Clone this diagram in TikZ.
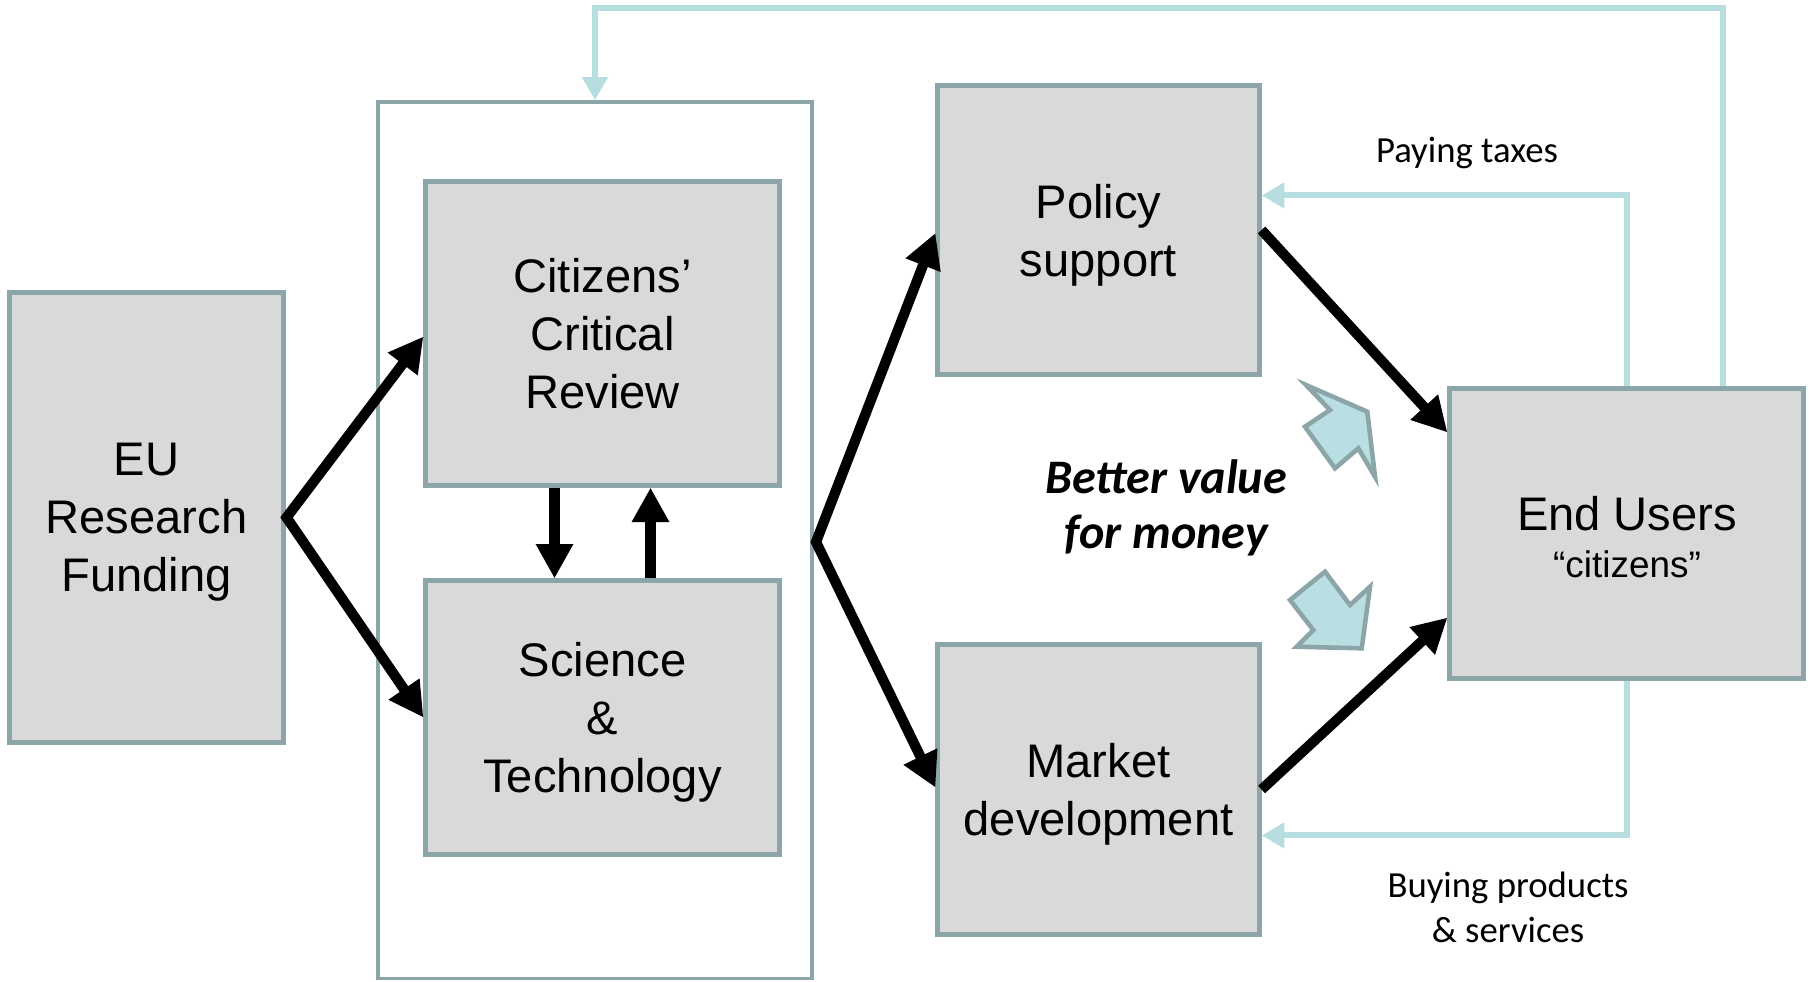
\documentclass[tikz,border=0pt]{standalone}
\usepackage{fontspec}
\setmainfont{Liberation Sans}
\newfontfamily\calib{Carlito}
\usetikzlibrary{arrows.meta,calc}
\definecolor{boxfill}{HTML}{D9D9D9}
\definecolor{boxline}{HTML}{8CA5A8}
\definecolor{fbcol}{HTML}{B6DDE0}
\definecolor{blockfill}{HTML}{B9DFE2}
\begin{document}
\begin{tikzpicture}[x=0.01cm,y=-0.01cm,
  box/.style={draw=boxline,fill=boxfill,line width=1.4pt,align=center,inner sep=0pt,text depth=0pt,font=\fontsize{13.4}{16.5}\selectfont},
  blk/.style={line width=2.9pt,line join=miter,-{Triangle[length=9.8pt,width=10pt]}},
  blktwo/.style={line width=2.9pt,line join=miter,{Triangle[length=9.8pt,width=10pt]}-{Triangle[length=9.8pt,width=10pt]}},
  fbline/.style={draw=fbcol,line width=1.7pt,-{Triangle[length=6.5pt,width=7pt]}},
  lbl/.style={font=\calib\fontsize{10.45}{12.8}\selectfont,anchor=base,inner sep=0pt},
  bvm/.style={font=\calib\bfseries\itshape\fontsize{13.7}{15}\selectfont,anchor=base,inner sep=0pt},
  bigarrow/.style={draw=boxline,fill=blockfill,line width=1.3pt,line join=miter}]
\useasboundingbox (0,0) rectangle (1810,981);
\fill[white] (0,0) rectangle (1810,981);

% group frame
\node[draw=boxline,line width=1pt,minimum width=4.34cm,minimum height=8.76cm,inner sep=0pt] (grp) at (595,540) {};

% boxes
\node[box,minimum width=2.73cm,minimum height=4.49cm] (eu) at (146.5,517.5) {EU\\Research\\Funding};
\node[box,minimum width=3.53cm,minimum height=3.03cm] (cit) at (602.5,333.5) {Citizens’\\Critical\\Review};
\node[box,minimum width=3.53cm,minimum height=2.73cm] (sci) at (602.5,717.5) {Science\\\&\\Technology};
\node[box,minimum width=3.21cm,minimum height=2.88cm] (pol) at (1098.5,230) {Policy\\support};
\node[box,minimum width=3.21cm,minimum height=2.89cm] (mkt) at (1098.5,789.5) {Market\\development};
\node[box,minimum width=3.53cm,minimum height=2.89cm] (end) at (1626.5,533.5) {};
\node[anchor=base,inner sep=0pt,font=\fontsize{13.4}{16.5}\selectfont] (endt) at (1627,530) {End Users};
\node[anchor=base,inner sep=0pt,font=\fontsize{10.5}{12}\selectfont] (endc) at (1627,577) {“citizens”};

% black arrows
\coordinate (ea) at ($(eu.east)+(1,0)$);
\draw[blktwo] ($(cit.west)+(0,3)$) -- (ea) -- (sci.west);
\coordinate (fa) at (816,542);
\draw[blktwo] ($(pol.west)+(0,3)$) -- (fa) -- ($(mkt.west)+(0,-2)$);
\draw[blk] ($(cit.south)+(-48,0)$) -- ($(sci.north)+(-48,0)$);
\draw[blk] ($(sci.north)+(48,0)$) -- ($(cit.south)+(48,0)$);
\draw[blk] (pol.east) -- ($(end.north west)+(0,46)$);
\draw[blk] (mkt.east) -- ($(end.south west)+(0,-63)$);

% feedback lines
\draw[fbline] ($(end.north)+(96.5,0)$) -- ++(0,-378) -| (grp.north);
\draw[fbline] (end.north) |- ($(pol.north east)+(0,112)$);
\draw[fbline] (end.south) |- ($(mkt.north east)+(0,193)$);

% labels
\node[lbl] (tax) at (1467,162) {Paying taxes};
\node[lbl] (buya) at (1508,897) {Buying products};
\node[lbl] (buyb) at (1508,942) {\& services};
\node[bvm] (bva) at (1166,493) {Better value};
\node[bvm] (bvb) at (1166,548) {for money};

% block arrows
\draw[bigarrow] (1306,385) -- (1367.3,411.7) -- (1375,476.7) -- (1358.3,448.3) -- (1335,468.3) -- (1305,426.7) -- (1330,410) -- cycle;
\draw[bigarrow] (1325,571.7) -- (1350,605) -- (1370,586.7) -- (1361.7,648.3) -- (1296.7,646.7) -- (1313.3,630) -- (1290,600) -- cycle;
\end{tikzpicture}
\end{document}
